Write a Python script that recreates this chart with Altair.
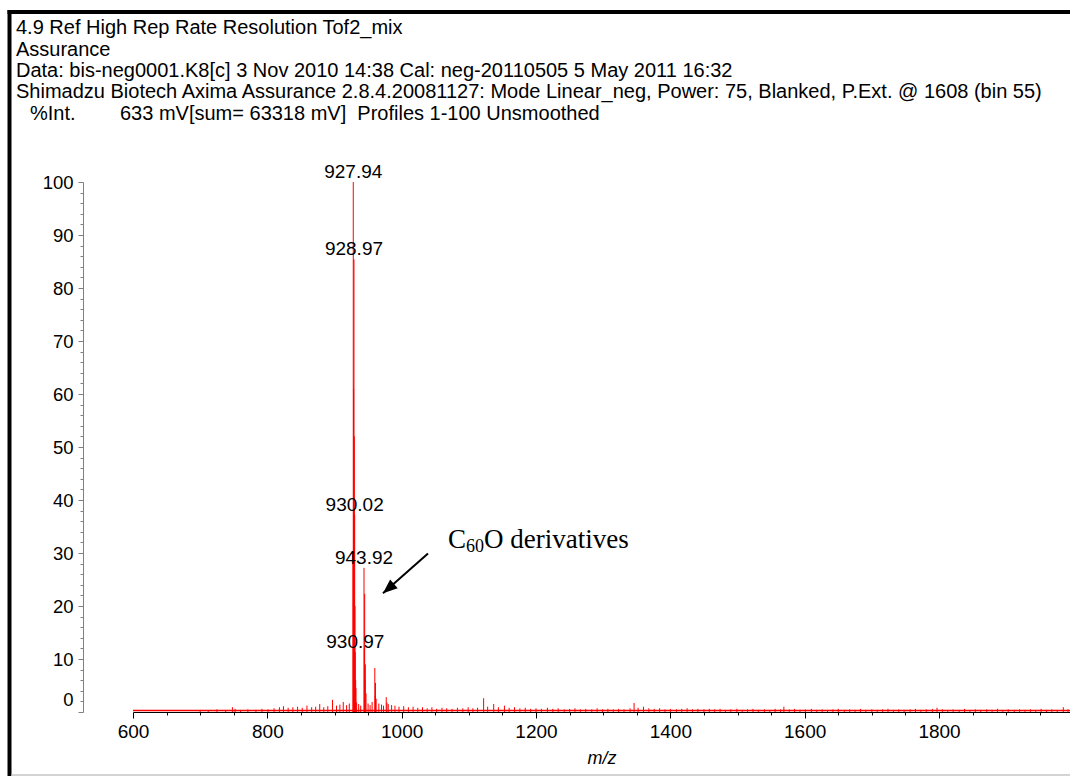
import altair as alt
import pandas as pd

# ---------------- data ----------------
header_lines = [
    "4.9 Ref High Rep Rate Resolution Tof2_mix",
    "Assurance",
    "Data: bis-neg0001.K8[c] 3 Nov 2010 14:38 Cal: neg-20110505 5 May 2011 16:32",
    "Shimadzu Biotech Axima Assurance 2.8.4.20081127: Mode Linear_neg, Power: 75, Blanked, P.Ext. @ 1608 (bin 55)",
]
int_label = "%Int."
int_info = "633 mV[sum= 63318 mV]\u00a0 Profiles 1-100 Unsmoothed"

# main peak sticks (m/z, % intensity)
peak_mz = [927.4, 927.94, 928.45, 928.97, 929.5, 930.02, 930.5, 930.97, 931.5, 931.95, 932.95,
           943.92, 944.4, 944.9, 945.4, 945.9, 946.9, 960.0, 960.6, 961.0, 962.0, 977.0, 978.0]
peak_int = [30, 100, 61, 85.4, 52, 37.2, 20, 11.3, 6, 4.5, 1.8,
            27.2, 12, 22.3, 6, 9, 3.5, 8.3, 3, 5.5, 2.5, 2.8, 1.8]

# baseline noise sticks
noise_mz = [700, 712, 725, 738, 748, 752, 760, 771, 783, 792, 801, 810, 818, 824, 831, 838, 845, 852,
            859, 866, 872, 878, 884, 890, 897, 903, 908, 913, 918, 922, 936, 939, 950, 953, 956, 966,
            970, 973, 980, 985, 990, 996, 1003, 1010, 1017, 1024, 1031, 1038, 1045, 1052, 1060,
            1067, 1075, 1083, 1091, 1099, 1106, 1113, 1122, 1128, 1137, 1144, 1153, 1160, 1168, 1176,
            1184, 1192, 1200, 1208, 1217, 1225, 1233, 1242, 1250, 1258, 1266, 1274, 1283, 1291, 1299,
            1307, 1315, 1323, 1331, 1340, 1346, 1352, 1360, 1368, 1376, 1384, 1392, 1400, 1409, 1417,
            1425, 1433, 1441, 1450, 1458, 1466, 1474, 1482, 1490, 1499, 1507, 1515, 1523, 1531, 1540,
            1548, 1556, 1564, 1569, 1577, 1585, 1593, 1601, 1610, 1618, 1626, 1634, 1642, 1650, 1659,
            1667, 1675, 1683, 1691, 1700, 1708, 1716, 1724, 1732, 1740, 1748, 1757, 1765, 1773, 1781,
            1790, 1797, 1805, 1813, 1821, 1830, 1838, 1846, 1854, 1862, 1871, 1879, 1887, 1895, 1903,
            1912, 1920, 1928, 1936, 1944, 1952, 1960, 1968, 1976, 1985, 1992]
noise_int = [0.4, 0.3, 0.5, 0.4, 0.9, 0.6, 0.3, 0.5, 0.4, 0.6, 0.5, 0.7, 0.9, 1.1, 0.8, 0.9, 1.0, 0.8,
             1.2, 0.9, 1.0, 1.5, 0.9, 1.1, 2.3, 1.2, 1.4, 1.9, 1.3, 1.6, 1.5, 1.2, 1.6, 1.3, 1.9, 1.6,
             1.4, 1.2, 1.5, 1.3, 1.2, 1.0, 1.1, 0.9, 1.0, 0.8, 0.9, 0.7, 0.9, 0.6, 0.8,
             0.7, 0.6, 0.8, 0.7, 0.9, 0.7, 0.8, 2.6, 1.0, 1.5, 0.9, 1.2, 0.8, 0.9, 0.7,
             0.8, 0.6, 0.7, 0.6, 0.8, 0.6, 0.7, 0.5, 0.6, 0.7, 0.5, 0.6, 0.5, 0.7, 0.5,
             0.6, 0.5, 0.6, 0.5, 0.7, 1.7, 0.8, 1.0, 0.7, 0.6, 0.7, 0.5, 0.6, 0.5, 0.6,
             0.7, 0.5, 0.6, 0.5, 0.6, 0.5, 0.6, 0.4, 0.5, 0.6, 0.4, 0.5, 0.6, 0.4, 0.5,
             0.4, 0.6, 0.5, 1.0, 0.5, 0.6, 0.4, 0.5, 0.6, 0.4, 0.5, 0.4, 0.5, 0.6, 0.4,
             0.5, 0.4, 0.6, 0.4, 0.5, 0.4, 0.5, 0.6, 0.4, 0.5, 0.4, 0.5, 0.6, 0.4, 0.5,
             0.6, 0.8, 0.5, 0.4, 0.5, 0.4, 0.6, 0.4, 0.5, 0.4, 0.5, 0.4, 0.6, 0.4, 0.5,
             0.4, 0.5, 0.4, 0.5, 0.4, 0.6, 0.4, 0.5, 0.4, 0.9, 0.5]

baseline_mz = [600, 1995]
baseline_int = [0.3, 0.3]

label_text = ["927.94", "928.97", "930.02", "943.92", "930.97"]
label_mz = [927.94, 928.97, 930.02, 943.92, 930.97]
label_int = [100, 85.4, 37.2, 27.2, 11.3]

# annotation arrow (tail -> tip) and text anchor, in data units
arrow_mz = [1039.2, 972.2]
arrow_int = [29.9, 22.4]
annot_mz = [1069]
annot_int = [30.9]

x_ticks = list(range(600, 1951, 50))
y_ticks = list(range(0, 101, 2))

# ---------------- chart ----------------
sticks = pd.DataFrame({"mz": peak_mz + noise_mz, "inten": peak_int + noise_int})
base_df = pd.DataFrame({"mz": baseline_mz, "inten": baseline_int})
labels_df = pd.DataFrame({"mz": label_mz, "inten": label_int, "txt": label_text})
arrow_df = pd.DataFrame({"mz": arrow_mz, "inten": arrow_int})
tip_df = pd.DataFrame({"mz": arrow_mz[1:], "inten": arrow_int[1:]})
annot_df = pd.DataFrame({"mz": annot_mz, "inten": annot_int})
one = pd.DataFrame({"k": [0]})

SANS = "Liberation Sans"
SERIF = "Liberation Serif"

xscale = alt.Scale(domain=[600, 1995], nice=False, zero=False)
yscale = alt.Scale(domain=[0, 100], nice=False)

xaxis = alt.Axis(
    values=x_ticks, format="d",
    labelExpr="datum.value % 200 == 0 ? datum.label : ''",
    tickSize={"condition": {"test": "datum.value % 200 == 0", "value": 6}, "value": 3},
    domainColor="black", tickColor="black", labelColor="black",
    labelFont=SANS, labelFontSize=19, labelPadding=4, labelOverlap=False,
    labelFlush=False, labelBound=False,
    grid=False, title="m/z", titleFont=SANS, titleFontSize=18,
    titleFontStyle="italic", titleFontWeight="normal", titlePadding=8, titleColor="black",
)
yaxis = alt.Axis(
    values=y_ticks,
    labelExpr="datum.value % 10 == 0 ? datum.label : ''",
    tickSize={"condition": {"test": "datum.value % 10 == 0", "value": 5}, "value": 3},
    labelOffset={"condition": {"test": "datum.value == 0", "value": -13}, "value": 0},
    offset=50, domainColor="#808080", tickColor="#808080", labelColor="black",
    labelFont=SANS, labelFontSize=18.5, labelPadding=5, labelOverlap=False, labelBound=False,
    labelFlush=False, grid=False, title=None,
)

X = alt.X("mz:Q", scale=xscale, axis=xaxis)
Y = alt.Y("inten:Q", scale=yscale, axis=yaxis)

baseline = alt.Chart(base_df).mark_line(color="#ff0000", strokeWidth=1.5).encode(x=X, y=Y)

stick_layer = alt.Chart(sticks).mark_rule(color="#ff0000", strokeWidth=1).encode(
    x=X, y=Y, y2=alt.datum(0),
)

peak_labels = alt.Chart(labels_df).mark_text(
    font=SANS, fontSize=19, color="black", baseline="middle", align="center", dy=-10
).encode(x=X, y=Y, text="txt:N")

arrow_line = alt.Chart(arrow_df).mark_line(color="black", strokeWidth=2).encode(x=X, y=Y)
arrow_head = alt.Chart(tip_df).mark_point(
    shape="M0,0L0.8,2L-0.8,2Z", filled=True, color="black", opacity=1, size=210, angle=229
).encode(x=X, y=Y)

ann_c = alt.Chart(annot_df).mark_text(font=SERIF, fontSize=27, color="black", align="left",
                                      baseline="alphabetic", text="C").encode(x=X, y=Y)
ann_sub = alt.Chart(annot_df).mark_text(font=SERIF, fontSize=18, color="black", align="left",
                                        baseline="alphabetic", text="60", dx=18, dy=4).encode(x=X, y=Y)
ann_rest = alt.Chart(annot_df).mark_text(font=SERIF, fontSize=27, color="black", align="left",
                                         baseline="alphabetic", text="O derivatives", dx=36).encode(x=X, y=Y)


# header text (decorative, placed relative to plot origin at 133,182)
def header(txt, px, py):
    return alt.Chart(one).mark_text(font=SANS, fontSize=20, color="black", align="left",
                                    baseline="alphabetic", text=txt).encode(
        x=alt.value(px - 133), y=alt.value(py - 182))


hdr = [header(t, 16, 34.3 + 21.3 * i) for i, t in enumerate(header_lines)]
hdr.append(header(int_label, 30, 34.3 + 21.3 * 4))
hdr.append(header(int_info, 120, 34.3 + 21.3 * 4))


# window frame (decorative)
def vrule(px, py1, py2, color, w):
    return alt.Chart(one).mark_rule(color=color, strokeWidth=w).encode(
        x=alt.value(px - 133), y=alt.value(py1 - 182), y2=alt.value(py2 - 182))


def hrule(py, px1, px2, color, w):
    return alt.Chart(one).mark_rule(color=color, strokeWidth=w).encode(
        y=alt.value(py - 182), x=alt.value(px1 - 133), x2=alt.value(px2 - 133))


frame = [vrule(9.5, 10, 776, "black", 4), hrule(12, 7.5, 1070, "black", 4),
         hrule(775, 11.5, 1070, "#d4d4d4", 2)]

chart = alt.layer(
    baseline, stick_layer, peak_labels, arrow_line, arrow_head, ann_c, ann_sub, ann_rest,
    *hdr, *frame
).properties(
    width=937, height=530,
    autosize=alt.AutoSizeParams(type="none"),
    padding={"left": 133, "top": 182, "right": 0, "bottom": 64},
    background="white",
).configure_view(stroke=None)

chart.save("out.html", embed_options={"renderer": "svg", "actions": False})
